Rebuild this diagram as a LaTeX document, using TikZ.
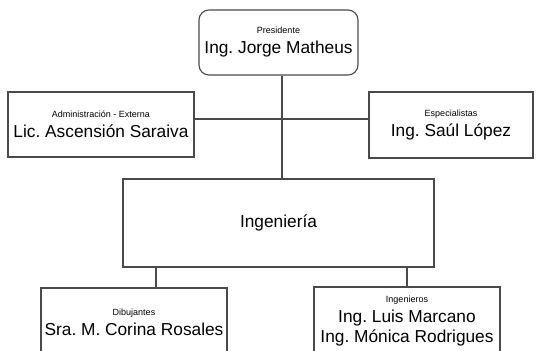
\documentclass[tikz,border=0pt]{standalone}
\usepackage{fontspec}
\setmainfont{Liberation Sans}
\usetikzlibrary{positioning, calc}
\frenchspacing
\definecolor{lineGray}{HTML}{4A4A4A}
\tikzset{
    orgBox/.style={draw=lineGray, line width=1.1pt, fill=white, inner sep=0pt,
        align=center, font=\fontsize{17.3}{20}\selectfont},
    orgLine/.style={draw=lineGray, line width=1.1pt}
}
\newcommand{\cargo}[1]{{\fontsize{9}{11}\selectfont #1}}

\begin{document}
\begin{tikzpicture}[x=1pt, y=-1pt]
    \useasboundingbox (0,0) rectangle (536,351);
    \clip (0,0) rectangle (536,351);
    % cajas
    \node[orgBox, rounded corners=10pt, minimum width=159pt, minimum height=65pt] (pres) at (278.5,42.5)
        {\cargo{Presidente}\\Ing. Jorge Matheus};
    \node[orgBox, minimum width=186pt, minimum height=65pt] (admin) at (101,124.5)
        {\cargo{Administración - Externa}\\Lic. Ascensión Saraiva};
    \node[orgBox, minimum width=164pt, minimum height=66pt] (espec) at (451,125)
        {\cargo{Especialistas}\\Ing. Saúl López};
    \node[orgBox, minimum width=311pt, minimum height=88pt] (ing) at (278.5,223) {Ingeniería};
    \node[orgBox, minimum width=186pt, minimum height=69pt] (dib) at (134,322.5)
        {\cargo{Dibujantes}\\Sra. M. Corina Rosales};
    \node[orgBox, minimum width=186pt, minimum height=68pt] (ingros) at (407,321)
        {\cargo{Ingenieros}\\Ing. Luis Marcano\\Ing. Mónica Rodrigues};
    % conectores
    \coordinate (hub) at (282,119);
    \coordinate (legL) at (156,0);
    \coordinate (legR) at (407,0);
    \draw[orgLine] (pres.south -| hub) -- (ing.north -| hub);
    \draw[orgLine] (admin.east |- hub) -- (espec.west |- hub);
    \draw[orgLine] (ing.south -| legL) -- (dib.north -| legL);
    \draw[orgLine] (ing.south -| legR) -- (ingros.north -| legR);
\end{tikzpicture}
\end{document}
